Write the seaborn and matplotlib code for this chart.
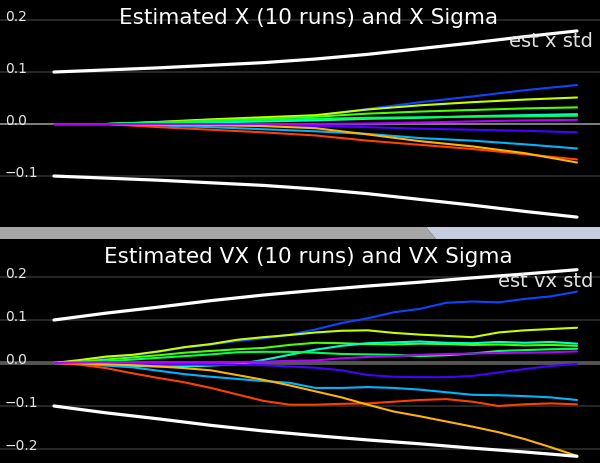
import numpy as np
import pandas as pd
import seaborn as sns
import matplotlib
matplotlib.use('Agg')
import matplotlib.pyplot as plt
from matplotlib.patches import Polygon

# ---- data ----
run_names = ['blue', 'yellow', 'lime', 'aqua', 'spring', 'indigo', 'skyblue', 'red', 'gold', 'magenta']
run_colors = ['#0a46ff', '#c8ff00', '#46ff00', '#00ffc8', '#00ff50',
              '#4600ff', '#00b4ff', '#ff4000', '#ffb400', '#b400ff']

# top panel: estimated x, sampled every 1 s
t_x = [0, 1, 2, 3, 4, 5, 6, 7, 8, 9, 10]
est_x = {
    'blue':    [0, 0, 0.004, 0.008, 0.011, 0.015, 0.029, 0.042, 0.053, 0.065, 0.075],
    'yellow':  [0, 0, 0.004, 0.009, 0.013, 0.017, 0.028, 0.036, 0.042, 0.047, 0.051],
    'lime':    [0, 0, 0.003, 0.007, 0.010, 0.014, 0.020, 0.024, 0.027, 0.030, 0.032],
    'aqua':    [0, 0, 0.002, 0.003, 0.005, 0.007, 0.010, 0.012, 0.015, 0.017, 0.019],
    'spring':  [0, 0, 0.003, 0.005, 0.008, 0.010, 0.012, 0.013, 0.014, 0.015, 0.016],
    'indigo':  [0, 0, -0.001, -0.002, -0.003, -0.004, -0.006, -0.009, -0.011, -0.013, -0.016],
    'skyblue': [0, 0, -0.003, -0.006, -0.010, -0.014, -0.019, -0.027, -0.032, -0.039, -0.047],
    'red':     [0, 0, -0.006, -0.011, -0.016, -0.022, -0.032, -0.040, -0.048, -0.058, -0.068],
    'gold':    [0, 0, -0.001, -0.002, -0.004, -0.008, -0.020, -0.033, -0.043, -0.056, -0.074],
    'magenta': [0, 0, 0, 0, 0, 0, 0.001, 0.003, 0.005, 0.007, 0.008],
}
sigma_x = [0.100, 0.104, 0.108, 0.113, 0.118, 0.125, 0.134, 0.145, 0.156, 0.168, 0.179]

# bottom panel: estimated vx, sampled every 0.5 s
t_vx = [0, 0.5, 1, 1.5, 2, 2.5, 3, 3.5, 4, 4.5, 5, 5.5, 6, 6.5, 7, 7.5, 8, 8.5, 9, 9.5, 10]
est_vx = {
    'blue':    [0, 0.005, 0.013, 0.018, 0.026, 0.036, 0.043, 0.051, 0.057, 0.066, 0.078,
                0.093, 0.104, 0.118, 0.126, 0.140, 0.143, 0.141, 0.149, 0.155, 0.166],
    'yellow':  [0, 0.007, 0.015, 0.019, 0.027, 0.037, 0.044, 0.054, 0.060, 0.065, 0.071,
                0.075, 0.076, 0.070, 0.066, 0.063, 0.060, 0.071, 0.076, 0.079, 0.082],
    'lime':    [0, 0.003, 0.008, 0.013, 0.018, 0.024, 0.028, 0.032, 0.035, 0.042, 0.047,
                0.046, 0.044, 0.043, 0.045, 0.044, 0.042, 0.043, 0.041, 0.042, 0.040],
    'aqua':    [0, -0.002, -0.005, -0.007, -0.008, -0.008, -0.006, -0.003, 0.007, 0.019, 0.031,
                0.040, 0.046, 0.048, 0.050, 0.047, 0.046, 0.049, 0.047, 0.049, 0.045],
    'spring':  [0, 0.001, 0.004, 0.008, 0.012, 0.016, 0.020, 0.025, 0.026, 0.026, 0.024,
                0.021, 0.020, 0.019, 0.016, 0.018, 0.022, 0.028, 0.030, 0.032, 0.033],
    'indigo':  [0, -0.002, -0.003, -0.003, -0.003, -0.003, -0.004, -0.004, -0.005, -0.008, -0.011,
                -0.017, -0.028, -0.032, -0.033, -0.033, -0.030, -0.022, -0.014, -0.007, -0.002],
    'skyblue': [0, -0.002, -0.006, -0.010, -0.018, -0.026, -0.032, -0.037, -0.042, -0.046, -0.058,
                -0.058, -0.056, -0.058, -0.062, -0.068, -0.074, -0.075, -0.077, -0.080, -0.086],
    'red':     [0, -0.004, -0.012, -0.024, -0.035, -0.045, -0.058, -0.073, -0.088, -0.097, -0.097,
                -0.095, -0.094, -0.090, -0.086, -0.084, -0.090, -0.100, -0.096, -0.094, -0.096],
    'gold':    [0, -0.001, -0.003, -0.005, -0.008, -0.012, -0.017, -0.028, -0.039, -0.052, -0.066,
                -0.080, -0.097, -0.113, -0.124, -0.136, -0.148, -0.161, -0.177, -0.196, -0.216],
    'magenta': [0, 0.001, 0.002, 0.001, 0.002, 0.002, 0.001, 0.002, 0.003, 0.005, 0.006,
                0.011, 0.014, 0.016, 0.019, 0.021, 0.022, 0.023, 0.024, 0.025, 0.027],
}
sigma_vx_t = [0, 1, 2, 3, 4, 5, 6, 7, 8, 9, 10]
sigma_vx = [0.100, 0.116, 0.130, 0.145, 0.158, 0.169, 0.179, 0.188, 0.198, 0.207, 0.217]

ticks_x = [0.2, 0.1, 0.0, -0.1]
ticks_vx = [0.2, 0.1, 0.0, -0.1, -0.2]

titles = ['Estimated X (10 runs) and X Sigma', 'Estimated VX (10 runs) and VX Sigma']
legend_labels = ['est x std', 'est vx std']


def long_frame(t, runs):
    rows = []
    for name in run_names:
        for ti, v in zip(t, runs[name]):
            rows.append((ti, v, name))
    return pd.DataFrame(rows, columns=['time', 'value', 'run'])


sns.set_theme(style='dark', rc={'axes.facecolor': 'black', 'figure.facecolor': 'black'})
plt.rcParams['font.family'] = ['DejaVu Sans']

fig = plt.figure(figsize=(6, 4.64), dpi=100)
W, H = 600.0, 464.0

# panel areas in pixels (top, bottom)
panels = [(0, 228), (240, 464)]
ylims = [(-0.198, 0.2404), (-0.2326, 0.2884)]
xlim = (-1.032, 10.44)
palette = dict(zip(run_names, run_colors))

data_sets = [(t_x, est_x, t_x, sigma_x, ticks_x),
             (t_vx, est_vx, sigma_vx_t, sigma_vx, ticks_vx)]

for i, (top, bot) in enumerate(panels):
    ax = fig.add_axes([0, 1 - bot / H, 1, (bot - top) / H])
    ax.set_facecolor('black')
    t, runs, ts, sig, ticks = data_sets[i]

    # grid lines
    for v in ticks:
        if v == 0:
            ax.axhline(0, color='#7f7f7f' if i == 0 else '#555555',
                       lw=1.4 if i == 0 else 2.8, zorder=1)
        else:
            ax.axhline(v, color='#262626', lw=1.5, zorder=1)
        ax.text(5 / W, v, f'{v:.1f}'.replace('-', '\u2212'), transform=ax.get_yaxis_transform(),
                color='#e8e8e8', fontsize=10, va='baseline', ha='left', zorder=5)

    df = long_frame(t, runs)
    sns.lineplot(data=df, x='time', y='value', hue='run', hue_order=run_names,
                 palette=palette, estimator=None, legend=False, lw=1.5, ax=ax, zorder=3)

    sig = np.array(sig)
    sns.lineplot(x=ts, y=sig, color='white', lw=2.3, ax=ax, zorder=4)
    sns.lineplot(x=ts, y=-sig, color='white', lw=2.3, ax=ax, zorder=4)

    ax.set_xlim(*xlim)
    ax.set_ylim(*ylims[i])
    ax.set_xticks([])
    ax.set_yticks([])
    ax.set_xlabel('')
    ax.set_ylabel('')
    ax.grid(False)
    for s in ax.spines.values():
        s.set_visible(False)

# titles and legend labels
fig.text(308.5 / W, 1 - 24 / H, titles[0], color='white', fontsize=15.5,
         ha='center', va='baseline')
fig.text(308.5 / W, 1 - 263 / H, titles[1], color='white', fontsize=15.5,
         ha='center', va='baseline')
fig.text(593 / W, 1 - 47 / H, legend_labels[0], color='#e0e0e0', fontsize=14,
         ha='right', va='baseline', zorder=10)
fig.text(593 / W, 1 - 287 / H, legend_labels[1], color='#e0e0e0', fontsize=14,
         ha='right', va='baseline', zorder=10)

# window chrome band between the panels
def px(pts):
    return [(x / W, 1 - y / H) for x, y in pts]

fig.patches.append(Polygon(px([(0, 228), (426, 228), (436, 240), (0, 240)]),
                           closed=True, facecolor='#a6a6a6', edgecolor='none',
                           transform=fig.transFigure, figure=fig))
fig.patches.append(Polygon(px([(426, 228), (600, 228), (600, 240), (436, 240)]),
                           closed=True, facecolor='#c4cede', edgecolor='none',
                           transform=fig.transFigure, figure=fig))

fig.savefig('out.png', dpi=100, facecolor='black')
plt.close(fig)
